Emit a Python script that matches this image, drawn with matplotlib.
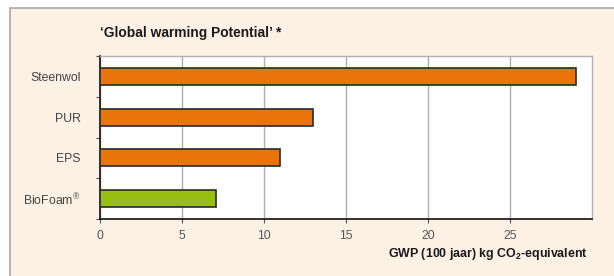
import matplotlib
matplotlib.use("Agg")
import matplotlib.pyplot as plt
from matplotlib.patches import Rectangle

categories = ["Steenwol", "PUR", "EPS", "BioFoam®"]
values = [29.0, 13.0, 11.0, 7.1]
colors = ["#EB730C", "#EB730C", "#EB730C", "#97BF0F"]
xticks = [0, 5, 10, 15, 20, 25]

plt.rcParams['font.family'] = ['Liberation Sans', 'DejaVu Sans']
plt.rcParams['mathtext.fontset'] = 'custom'
plt.rcParams['mathtext.rm'] = 'Liberation Sans'
plt.rcParams['mathtext.bf'] = 'Liberation Sans:bold'

W, H = 614, 276
fig = plt.figure(figsize=(W/100, H/100), dpi=100)
fig.patch.set_facecolor("white")
bg = Rectangle((10/W, -0.1), 1, 1.1 - 8/H, transform=fig.transFigure,
               facecolor="#FDF0E4", edgecolor="#A8A8A8", linewidth=1.2, zorder=-10)
fig.patches.append(bg)

ax = fig.add_axes([100/W, 1 - 219/H, (592-100)/W, (219-56)/H])
ax.set_zorder(5)
ax.set_facecolor("white")
ypos = list(range(len(categories)))
ax.barh(ypos, values, height=0.42, color=colors, edgecolor="#2a2a2a",
        linewidth=1.2, zorder=3)
ax.set_ylim(3.5, -0.5)
ax.set_xlim(0, 30)
ax.set_xticks(xticks)
ax.set_xticklabels([str(t) for t in xticks], color="#555555", fontsize=8.7)
ax.set_yticks(ypos)
ylabels = [c.replace("®", "$^{\\mathrm{®}}$") for c in categories]
ax.set_yticklabels(ylabels, color="#444444", fontsize=8.8)
ax.tick_params(axis='y', length=0, pad=14)
ax.set_yticks([-0.5, 0.5, 1.5, 2.5, 3.5], minor=True)
ax.tick_params(axis='y', which='minor', length=3, color="#555555", width=0.8)
ax.tick_params(axis='x', length=3, color="#555555", width=0.8, pad=5)
ax.grid(axis='x', color="#B0B0B0", linewidth=1.0, zorder=1)
ax.set_axisbelow(True)
for s in ["top", "right"]:
    ax.spines[s].set_color("#B0B0B0")
    ax.spines[s].set_linewidth(1.0)
for s in ["left", "bottom"]:
    ax.spines[s].set_color("#111111")
    ax.spines[s].set_linewidth(1.2)

fig.text(100/W, 1 - 33/H, "\u2018Global warming Potential\u2019 *", fontsize=9.9,
         fontweight="bold", color="#1a1a1a", va="center", ha="left")
fig.text(588/W, 1 - 254/H, "GWP (100 jaar) kg CO$_\\mathbf{2}$-equivalent", fontsize=8.9,
         fontweight="bold", color="#1a1a1a", va="center", ha="right")

fig.savefig("out.png", dpi=100, facecolor=fig.get_facecolor())
